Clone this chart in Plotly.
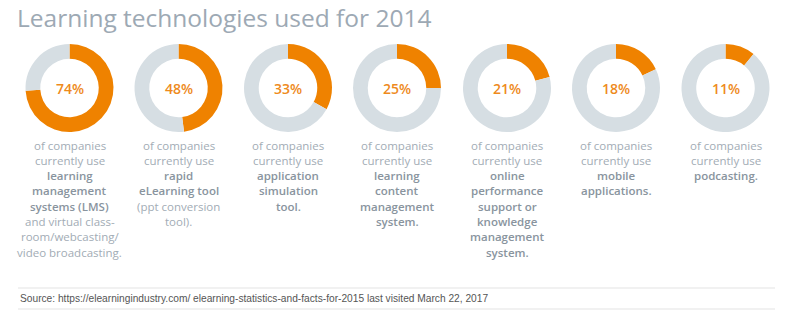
import plotly.graph_objects as go

W, H = 790, 328

title = "Learning technologies used for 2014"
percent = [74, 48, 33, 25, 21, 18, 11]
intro = ["of companies", "currently use"]
bold_lines = [
    ["learning", "management", "systems (LMS)"],
    ["rapid", "eLearning tool"],
    ["application", "simulation", "tool."],
    ["learning", "content", "management", "system."],
    ["online", "performance", "support or", "knowledge", "management", "system."],
    ["mobile", "applications."],
    ["podcasting."],
]
tail_lines = [
    ["and virtual class-", "room/webcasting/", "video broadcasting."],
    ["(ppt conversion", "tool)."],
    [], [], [], [], [],
]
source = "Source: https://elearningindustry.com/ elearning-statistics-and-facts-for-2015 last visited March 22, 2017"

ORANGE = "#EF8200"
ORANGE_TXT = "#EE8A1C"
GREY_RING = "#D6DEE3"
TXT = "#A2ACB5"
TXT_B = "#89949E"

centers_x = [69.5, 178.5, 288, 397, 507, 616, 725.5]
cy = 88
R = 44

fig = go.Figure()
annotations = []

def px(x):
    return x / W

def py(y):
    return 1 - y / H

for i, (p, cx) in enumerate(zip(percent, centers_x)):
    fig.add_trace(go.Pie(
        values=[p, 100 - p],
        labels=["used", "not used"],
        marker=dict(colors=[ORANGE, GREY_RING], line=dict(width=0)),
        hole=0.665,
        sort=False,
        direction="clockwise",
        rotation=0,
        textinfo="none",
        hoverinfo="skip",
        showlegend=False,
        domain=dict(x=[px(cx - R), px(cx + R)], y=[py(cy + R), py(cy - R)]),
    ))
    annotations.append(dict(
        x=px(cx), y=py(cy), xref="paper", yref="paper",
        text=f"{p}%", showarrow=False, xanchor="center", yanchor="middle",
        font=dict(family="Open Sans", size=14, color=ORANGE_TXT, weight=600),
    ))
    lines = [(t, False) for t in intro] + [(t, True) for t in bold_lines[i]] + [(t, False) for t in tail_lines[i]]
    for j, (t, b) in enumerate(lines):
        annotations.append(dict(
            x=px(cx), y=py(145 + j * 15.3), xref="paper", yref="paper",
            text=t, showarrow=False,
            xanchor="center", yanchor="middle",
            font=dict(family="Open Sans", size=11.5, color=TXT_B if b else TXT,
                      weight=600 if b else 400),
        ))

annotations.append(dict(
    x=px(15), y=py(17), xref="paper", yref="paper", text=title, showarrow=False,
    xanchor="left", yanchor="middle",
    font=dict(family="Open Sans", size=24.5, color="#9DA9B4"),
))
annotations.append(dict(
    x=px(18), y=py(298.5), xref="paper", yref="paper", text=source, showarrow=False,
    xanchor="left", yanchor="middle",
    font=dict(family="Liberation Sans", size=10.2, color="#555555"),
))

shapes = [
    dict(type="line", xref="paper", yref="paper", x0=px(18), x1=px(775), y0=py(288), y1=py(288),
         line=dict(color="#E3E3E3", width=1.2)),
    dict(type="line", xref="paper", yref="paper", x0=px(18), x1=px(775), y0=py(309), y1=py(309),
         line=dict(color="#E3E3E3", width=1.2)),
]

fig.update_layout(
    width=W, height=H,
    margin=dict(l=0, r=0, t=0, b=0),
    paper_bgcolor="white", plot_bgcolor="white",
    annotations=annotations, shapes=shapes,
)

fig.write_html("out.html")
